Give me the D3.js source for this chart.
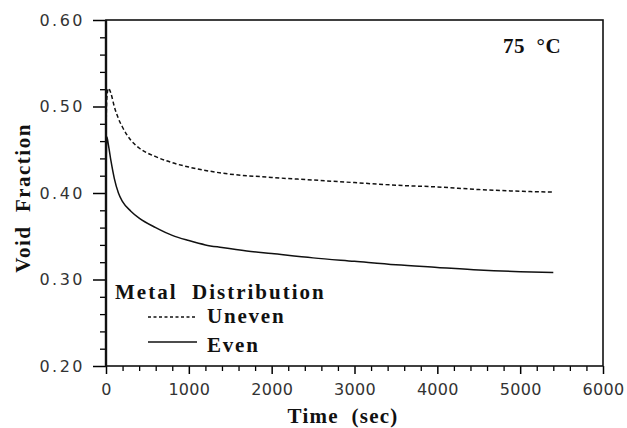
<!DOCTYPE html>
<html>
<head>
<meta charset="utf-8">
<script src="https://cdn.jsdelivr.net/npm/d3@7"></script>
<style>
body{margin:0;background:#fff;}
.tick text{font-family:"DejaVu Sans",sans-serif;font-size:16px;fill:#333;}
.lbl{font-family:"Liberation Serif","Times New Roman",serif;font-weight:bold;fill:#111;}
</style>
</head>
<body>
<div class="container"></div>
<script>
// time (sec) and void fraction
const unevenT = [0, 10, 30, 60, 100, 150, 200, 300, 400, 600, 800, 1000, 1400, 2000, 2500, 3000, 3500, 4000, 4500, 5000, 5400];
const unevenV = [0.47, 0.51, 0.521, 0.515, 0.50, 0.486, 0.476, 0.461, 0.452, 0.442, 0.435, 0.430, 0.423, 0.418, 0.415, 0.412, 0.409, 0.407, 0.404, 0.402, 0.401];
const evenT = [0, 10, 30, 60, 100, 150, 200, 300, 400, 600, 800, 1000, 1200, 1400, 1700, 2000, 2500, 3000, 3500, 4000, 4500, 5000, 5400];
const evenV = [0.42, 0.465, 0.455, 0.437, 0.417, 0.400, 0.390, 0.379, 0.371, 0.360, 0.351, 0.345, 0.340, 0.337, 0.333, 0.330, 0.325, 0.321, 0.317, 0.314, 0.311, 0.309, 0.308];
const xTicks = [0, 1000, 2000, 3000, 4000, 5000, 6000];
const yTicks = [0.20, 0.30, 0.40, 0.50, 0.60];

const W = 627, H = 428;
const m = {left:106, right:24, top:20, bottom:62};

const svg = d3.select('.container').append('svg')
	.attr('width', W)
	.attr('height', H);

const x = d3.scaleLinear().domain([0, 6000]).range([m.left, W - m.right]);
const y = d3.scaleLinear().domain([0.20, 0.60]).range([H - m.bottom, m.top]);

//minor ticks
const xMinor = d3.range(0, 6001, 200).filter(d => d % 1000 !== 0);
const yMinor = d3.range(0.20, 0.6001, 0.02).filter(d => Math.abs(d*10 - Math.round(d*10)) > 0.01);

svg.append('g')
	.attr('transform', `translate(0,${y(0.20)})`)
	.call(d3.axisBottom(x).tickValues(xMinor).tickSize(5).tickFormat(''))
	.call(g => g.select('.domain').remove())
	.selectAll('line').attr('stroke-width', 1.3);
svg.append('g')
	.attr('transform', `translate(${x(0)},0)`)
	.call(d3.axisLeft(y).tickValues(yMinor).tickSize(6).tickFormat(''))
	.call(g => g.select('.domain').remove())
	.selectAll('line').attr('stroke-width', 1.3);

//major ticks
const xa = svg.append('g')
	.attr('transform', `translate(0,${y(0.20)})`)
	.call(d3.axisBottom(x).tickValues(xTicks).tickSize(8).tickPadding(10).tickFormat(d3.format('d')));
xa.select('.domain').remove();
xa.selectAll('line').attr('stroke-width', 1.5);
xa.selectAll('text').attr('letter-spacing', 0.3);

const ya = svg.append('g')
	.attr('transform', `translate(${x(0)},0)`)
	.call(d3.axisLeft(y).tickValues(yTicks).tickSize(13).tickPadding(8).tickFormat(d3.format('.2f')));
ya.select('.domain').remove();
ya.selectAll('line').attr('stroke-width', 1.5);
ya.selectAll('text').attr('letter-spacing', 2.5);

//frame
svg.append('rect')
	.attr('x', x(0)).attr('y', y(0.60))
	.attr('width', x(6000) - x(0)).attr('height', y(0.20) - y(0.60))
	.attr('fill', 'none').attr('stroke', '#111').attr('stroke-width', 1.6);
svg.append('line')
	.attr('x1', x(0)).attr('x2', x(0)).attr('y1', y(0.60)).attr('y2', y(0.20))
	.attr('stroke', '#111').attr('stroke-width', 2.4);

//curves
const line = d3.line().x(d => x(d[0])).y(d => y(d[1])).curve(d3.curveMonotoneX);
svg.append('path')
	.datum(d3.zip(unevenT, unevenV))
	.attr('d', line)
	.attr('fill', 'none').attr('stroke', '#111').attr('stroke-width', 1.5)
	.attr('stroke-dasharray', '4,2.5');
svg.append('path')
	.datum(d3.zip(evenT, evenV))
	.attr('d', line)
	.attr('fill', 'none').attr('stroke', '#111').attr('stroke-width', 1.5);

//labels
svg.append('text').attr('class', 'lbl')
	.attr('x', 503).attr('y', 53)
	.attr('font-size', 21).attr('letter-spacing', 0.5)
	.attr('xml:space', 'preserve')
	.text('75  \u00B0C');

svg.append('text').attr('class', 'lbl')
	.attr('x', 343).attr('y', 423)
	.attr('text-anchor', 'middle')
	.attr('font-size', 21).attr('letter-spacing', 1.2)
	.attr('xml:space', 'preserve')
	.text('Time  (sec)');

svg.append('text').attr('class', 'lbl')
	.attr('transform', 'translate(30,198) rotate(-90)')
	.attr('text-anchor', 'middle')
	.attr('font-size', 21).attr('letter-spacing', 1.5)
	.attr('xml:space', 'preserve')
	.text('Void  Fraction');

//legend
svg.append('text').attr('class', 'lbl')
	.attr('x', 115).attr('y', 299)
	.attr('font-size', 21).attr('letter-spacing', 2)
	.attr('xml:space', 'preserve')
	.text('Metal  Distribution');

const legend = [['Uneven', '3,2.5', 317, 323], ['Even', null, 342, 352]];
legend.forEach(function(l){
	svg.append('line')
		.attr('x1', 148).attr('x2', 197).attr('y1', l[2]).attr('y2', l[2])
		.attr('stroke', '#111').attr('stroke-width', 1.3)
		.attr('stroke-dasharray', l[1]);
	svg.append('text').attr('class', 'lbl')
		.attr('x', 207).attr('y', l[3])
		.attr('font-size', 21).attr('letter-spacing', 1.8)
		.text(l[0]);
});
</script>
</body>
</html>
